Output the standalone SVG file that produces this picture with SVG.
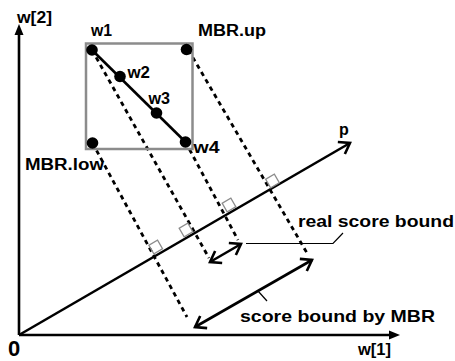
<svg xmlns="http://www.w3.org/2000/svg" width="455" height="361" viewBox="0 0 455 361">
<style>
  text { font-family: "Liberation Sans", Arial, Helvetica, sans-serif; font-weight: bold; fill: #000; }
  .lbl { font-size: 16px; }
  .axis { stroke: #000; stroke-width: 2.6; fill: none; }
  .proj { stroke: #000; stroke-width: 2.8; fill: none; stroke-dasharray: 4.5 4; }
  .solid { stroke: #000; stroke-width: 2.6; fill: none; }
  .leader { stroke: #000; stroke-width: 1.2; fill: none; }
  .dot { fill: #000; }
  .mbr { fill: none; stroke: #8c8c8c; stroke-width: 2.5; }
  .ra { fill: none; stroke: #8c8c8c; stroke-width: 1.3; }
</style>
<defs>
  <marker id="tri" markerUnits="userSpaceOnUse" markerWidth="14" markerHeight="12" refX="0" refY="6" orient="auto" viewBox="0 0 14 12">
    <path d="M0,1.5 L11,6 L0,10.5 Z" fill="#000"/>
  </marker>
  <marker id="chev" markerUnits="userSpaceOnUse" markerWidth="16" markerHeight="18" refX="13" refY="9" orient="auto-start-reverse" viewBox="0 0 16 18">
    <path d="M3,2 L13,9 L3,16" fill="none" stroke="#000" stroke-width="2.6" stroke-linejoin="miter"/>
  </marker>
</defs>

<g id="connectors">
  <path class="axis" d="M19,335 L19,35" marker-end="url(#tri)"/>
  <path class="axis" d="M19,335 L389,335" marker-end="url(#tri)"/>
  <path class="axis" d="M19,335 L350,143" marker-end="url(#chev)"/>
  <path class="proj" d="M92.5,143 L187,317"/>
  <path class="proj" d="M92,50 L209,258"/>
  <path class="proj" d="M185.5,142 L238,240"/>
  <path class="proj" d="M188.5,50 L307,253"/>
  <path class="solid" d="M92,50 L185.5,142"/>
  <path class="solid" d="M210,262 L241,244" marker-start="url(#chev)" marker-end="url(#chev)"/>
  <path class="solid" d="M195,327 L312,260" marker-start="url(#chev)" marker-end="url(#chev)"/>
  <path class="leader" d="M246,243.5 L333,243.5 L343,233"/>
  <path class="leader" d="M258,291 L267,301"/>
</g>

<g id="right-angles">
  <rect class="ra" x="-5" y="-5" width="10" height="10" transform="translate(155.7,247) rotate(-30)"/>
  <rect class="ra" x="-5" y="-5" width="10" height="10" transform="translate(186,230) rotate(-30)"/>
  <rect class="ra" x="-5" y="-5" width="10" height="10" transform="translate(229,205) rotate(-30)"/>
  <rect class="ra" x="-5" y="-5" width="10" height="10" transform="translate(272.5,181) rotate(-30)"/>
</g>

<g id="mbr">
  <rect class="mbr" x="86" y="43.5" width="106.5" height="105.5"/>
</g>

<g id="w1"><circle class="dot" cx="92" cy="50" r="5.8"/><text class="lbl" x="91" y="36" textLength="21" lengthAdjust="spacingAndGlyphs">w1</text></g>
<g id="w2"><circle class="dot" cx="120" cy="76.5" r="5.8"/><text class="lbl" x="127.5" y="78" textLength="22.5" lengthAdjust="spacingAndGlyphs">w2</text></g>
<g id="w3"><circle class="dot" cx="156.5" cy="113" r="5.8"/><text class="lbl" x="148.5" y="104" textLength="21.5" lengthAdjust="spacingAndGlyphs">w3</text></g>
<g id="w4"><circle class="dot" cx="185.5" cy="142" r="5.8"/><text class="lbl" x="193.5" y="152.5" textLength="26" lengthAdjust="spacingAndGlyphs">w4</text></g>
<g id="mbr-up"><circle class="dot" cx="186.5" cy="49.5" r="5.8"/><text class="lbl" x="198" y="36" textLength="68" lengthAdjust="spacingAndGlyphs">MBR.up</text></g>
<g id="mbr-low"><circle class="dot" cx="92.5" cy="143" r="5.8"/><text class="lbl" x="25" y="170" textLength="79" lengthAdjust="spacingAndGlyphs">MBR.low</text></g>

<g id="labels">
  <text class="lbl" x="17" y="23" textLength="35" lengthAdjust="spacingAndGlyphs">w[2]</text>
  <text class="lbl" x="358" y="355" textLength="33" lengthAdjust="spacingAndGlyphs">w[1]</text>
  <text x="8" y="356" style="font-size:22px">0</text>
  <text class="lbl" x="339" y="135">p</text>
  <text class="lbl" x="298" y="227" textLength="156" lengthAdjust="spacingAndGlyphs">real score bound</text>
  <text x="240" y="322" style="font-size:17px" textLength="195" lengthAdjust="spacingAndGlyphs">score bound by MBR</text>
</g>
</svg>
